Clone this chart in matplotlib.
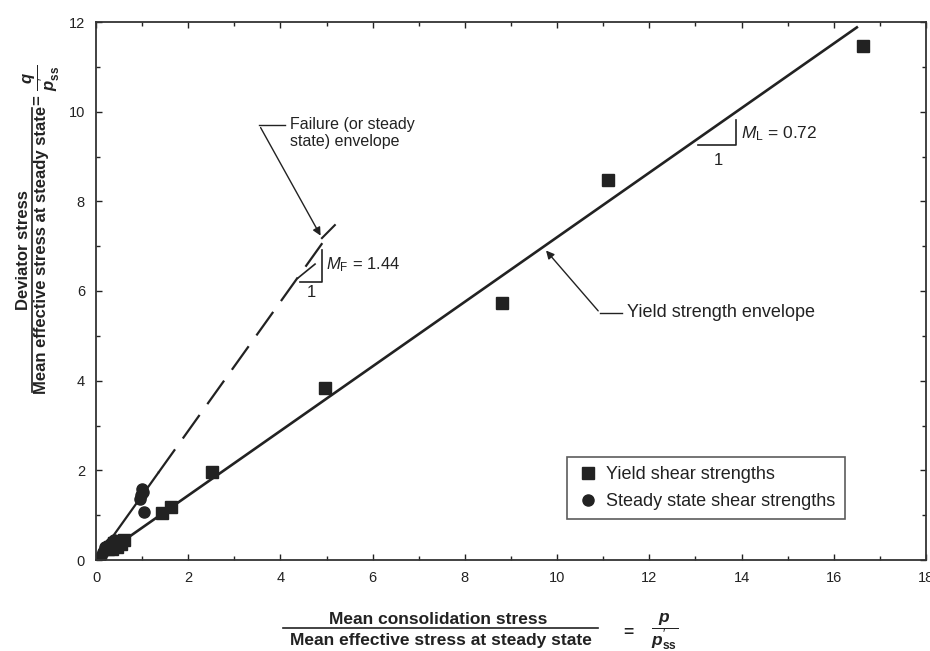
import matplotlib
matplotlib.use('Agg')
import matplotlib.pyplot as plt
from matplotlib.lines import Line2D
from matplotlib.ticker import MultipleLocator

plt.rcParams['font.family'] = ['Liberation Sans', 'DejaVu Sans']
plt.rcParams['mathtext.fontset'] = 'custom'
plt.rcParams['mathtext.rm'] = 'Liberation Sans'
plt.rcParams['mathtext.it'] = 'Liberation Sans:italic'
plt.rcParams['mathtext.bf'] = 'Liberation Sans:bold:italic'
plt.rcParams['mathtext.sf'] = 'Liberation Sans:bold'

# data
yield_x = [16.64, 11.1, 8.8, 4.97, 2.52, 1.63, 1.43, 0.6, 0.55, 0.5, 0.45, 0.4, 0.35, 0.3, 0.25]
yield_y = [11.47, 8.48, 5.73, 3.84, 1.96, 1.18, 1.05, 0.45, 0.35, 0.42, 0.3, 0.38, 0.25, 0.3, 0.25]
steady_x = [1.0, 1.02, 0.98, 0.96, 1.05, 0.4, 0.35, 0.3, 0.25, 0.2, 0.2, 0.15, 0.1]
steady_y = [1.58, 1.52, 1.44, 1.35, 1.08, 0.45, 0.4, 0.35, 0.3, 0.3, 0.25, 0.18, 0.1]

M_L = 0.72
M_F = 1.44
yield_line_x = [0, 16.5]
fail_solid_x = [0, 1.35]
fail_dash_x = [1.35, 4.95]

ink = '#222222'
W, H = 930, 651

fig = plt.figure(figsize=(9.3, 6.51), dpi=100)
ax = fig.add_axes([96 / W, 1 - 560 / H, 830 / W, 538 / H])

ax.plot(yield_line_x, [M_L * v for v in yield_line_x], color=ink, lw=1.9)
ax.plot(fail_solid_x, [M_F * v for v in fail_solid_x], color=ink, lw=1.6)
ax.plot(fail_dash_x, [M_F * v for v in fail_dash_x], color=ink, lw=1.6, dashes=(13, 6))

ax.plot(yield_x, yield_y, 's', color=ink, ms=8.5, ls='none', label='Yield shear strengths')
ax.plot(steady_x, steady_y, 'o', color=ink, ms=8, ls='none', label='Steady state shear strengths')

ax.set_xlim(0, 18)
ax.set_ylim(0, 12)
ax.xaxis.set_major_locator(MultipleLocator(2))
ax.xaxis.set_minor_locator(MultipleLocator(1))
ax.yaxis.set_major_locator(MultipleLocator(2))
ax.yaxis.set_minor_locator(MultipleLocator(1))
ax.tick_params(which='both', direction='in', top=True, right=True, colors=ink,
               labelsize=10.5, length=4, width=1, pad=8)
ax.tick_params(which='minor', length=3)
for s in ax.spines.values():
    s.set_color('#333333')
    s.set_linewidth(1.3)

leg = ax.legend(loc='lower left', bbox_to_anchor=(0.567, 0.076), borderaxespad=0,
                fontsize=13, frameon=True, fancybox=False, edgecolor='#333333',
                handletextpad=0.3, handlelength=1.4, borderpad=0.5, labelspacing=0.55)
leg.get_frame().set_linewidth(1.2)
for t in leg.get_texts():
    t.set_color(ink)

# slope triangles
ax.plot([13.06, 13.88, 13.88], [9.26, 9.26, 9.81], color=ink, lw=1.2)
ax.text(13.99, 9.52, r'$M_{\mathrm{L}}$ = 0.72', fontsize=12.5, color=ink, va='center')
ax.text(13.49, 8.92, '1', fontsize=12, color=ink, ha='center', va='center')

ax.plot([4.42, 4.90, 4.90], [6.20, 6.20, 6.92], color=ink, lw=1.2)
ax.plot([4.38, 4.75], [6.29, 6.60], color=ink, lw=1.2)
ax.text(4.99, 6.58, r'$M_{\mathrm{F}}$ = 1.44', fontsize=12, color=ink, va='center')
ax.text(4.68, 5.96, '1', fontsize=12, color=ink, ha='center', va='center')

# callouts
ax.plot([4.10, 3.54], [9.70, 9.70], color=ink, lw=1)
ax.annotate('', xy=(4.90, 7.18), xytext=(3.54, 9.70),
            arrowprops=dict(arrowstyle='-|>', color=ink, lw=1, mutation_scale=12))
ax.plot([4.90, 5.18], [7.18, 7.47], color=ink, lw=1.5)
ax.text(4.21, 9.88, 'Failure (or steady\nstate) envelope', fontsize=11.5, color=ink,
        va='top', linespacing=1.15)

ax.plot([11.41, 10.93], [5.51, 5.51], color=ink, lw=1)
ax.annotate('', xy=(9.72, 6.95), xytext=(10.93, 5.51),
            arrowprops=dict(arrowstyle='-|>', color=ink, lw=1, mutation_scale=12))
ax.text(11.52, 5.51, 'Yield strength envelope', fontsize=13, color=ink, va='center')


def fx(p):
    return p / W


def fy(p):
    return 1 - p / H


# x-axis label as a fraction
fig.text(fx(438), fy(619), 'Mean consolidation stress', fontsize=12.5, weight='bold',
         color=ink, ha='center', va='center')
fig.add_artist(Line2D([fx(283), fx(598)], [fy(628), fy(628)], color=ink, lw=1.2))
fig.text(fx(441), fy(640), 'Mean effective stress at steady state', fontsize=12.5,
         weight='bold', color=ink, ha='center', va='center')
fig.text(fx(628), fy(632), '=', fontsize=12.5, weight='bold', color=ink,
         ha='center', va='center')
fig.text(fx(665), fy(632), r'$\dfrac{\mathbf{p}}{\mathbf{p}^{\prime}_{\mathsf{ss}}}$',
         fontsize=12.5, color=ink, ha='center', va='center')

# y-axis label as a fraction
fig.text(fx(24), fy(250), 'Deviator stress', fontsize=12, weight='bold', color=ink,
         rotation=90, ha='center', va='center')
fig.add_artist(Line2D([fx(32), fx(32)], [fy(108), fy(392)], color=ink, lw=1.2))
fig.text(fx(42), fy(250), 'Mean effective stress at steady state', fontsize=12,
         weight='bold', color=ink, rotation=90, ha='center', va='center')
fig.text(fx(38), fy(100), '=', fontsize=12, weight='bold', color=ink, rotation=90,
         ha='center', va='center')
fig.text(fx(42), fy(78), r'$\dfrac{\mathbf{q}}{\mathbf{p}^{\prime}_{\mathsf{ss}}}$',
         fontsize=12, color=ink, rotation=90, ha='center', va='center')

fig.savefig('out.png', dpi=100)
